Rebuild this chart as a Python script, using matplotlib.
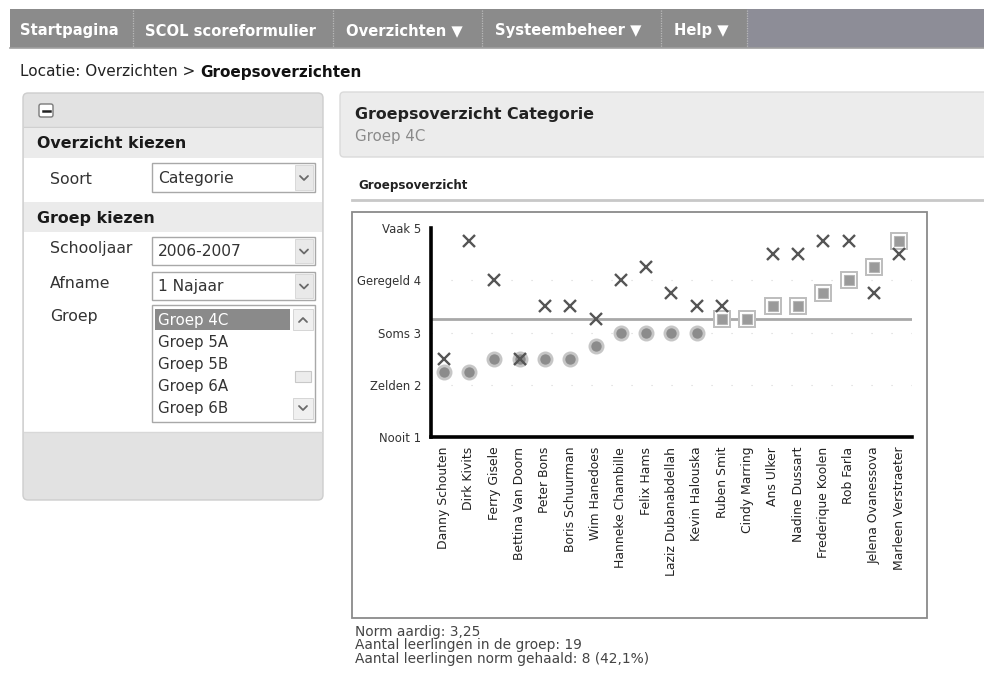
import numpy as np
import matplotlib
matplotlib.use("Agg")
import matplotlib.pyplot as plt
from matplotlib.patches import Rectangle, FancyBboxPatch

# ---------------- data ----------------
students = ["Danny Schouten", "Dirk Kivits", "Ferry Gisele", "Bettina Van Doorn",
            "Peter Bons", "Boris Schuurman", "Wim Hanedoes", "Hanneke Chambille",
            "Felix Hams", "Laziz Dubanabdellah", "Kevin Halouska", "Ruben Smit",
            "Cindy Marring", "Ans Ulker", "Nadine Dussart", "Frederique Koolen",
            "Rob Farla", "Jelena Ovanessova", "Marleen Verstraeter"]
scores = [2.25, 2.25, 2.5, 2.5, 2.5, 2.5, 2.75, 3.0, 3.0, 3.0, 3.0,
          3.25, 3.25, 3.5, 3.5, 3.75, 4.0, 4.25, 4.75]
x_scores = [2.5, 4.75, 4.0, 2.5, 3.5, 3.5, 3.25, 4.0, 4.25, 3.75, 3.5,
            3.5, np.nan, 4.5, 4.5, 4.75, 4.75, 3.75, 4.5]
norm = 3.25
y_ticks = [1, 2, 3, 4, 5]
y_labels = ["Nooit 1", "Zelden 2", "Soms 3", "Geregeld 4", "Vaak 5"]

nav_items = ["Startpagina", "SCOL scoreformulier", "Overzichten \u25BC",
             "Systeembeheer \u25BC", "Help \u25BC"]
groups = ["Groep 4C", "Groep 5A", "Groep 5B", "Groep 6A", "Groep 6B"]
footer = ["Norm aardig: 3,25", "Aantal leerlingen in de groep: 19",
          "Aantal leerlingen norm gehaald: 8 (42,1%)"]

W, H = 984, 679
fig = plt.figure(figsize=(W / 100, H / 100), dpi=100)
fig.patch.set_facecolor("white")

bg = fig.add_axes([0, 0, 1, 1])
bg.set_xlim(0, W)
bg.set_ylim(H, 0)
bg.axis("off")


def rect(x0, y0, x1, y1, fc, ec="none", lw=1.0, z=1, **kw):
    r = Rectangle((x0, y0), x1 - x0, y1 - y0, facecolor=fc, edgecolor=ec, lw=lw, zorder=z, **kw)
    bg.add_patch(r)
    return r


def chevron(cx, cy, up=False, color="#6a6a6a"):
    d = -3 if up else 3
    bg.plot([cx - 4, cx, cx + 4], [cy - d / 1.5, cy + d / 1.5, cy - d / 1.5],
            color=color, lw=1.3, zorder=6, solid_capstyle="round")


# ---------------- nav bar ----------------
rect(10, 9, W, 48, "#8b8b8b", z=1)
rect(747, 9, W, 48, "#8d8d97", z=1)
bg.plot([10, W], [47.5, 47.5], color="#a0a0a0", lw=1.2, zorder=2)
for sx in [133, 333, 482, 661, 747]:
    bg.plot([sx, sx], [10, 47], color="#b8b8b8", lw=0.9, ls=(0, (1, 1)), zorder=2)
for tx, s in zip([20, 145, 346, 495, 674], nav_items):
    bg.text(tx, 31, s, color="white", fontsize=10.6, fontweight="bold",
            va="center", ha="left", zorder=3)

# breadcrumb
t1 = bg.text(20, 72, "Locatie: Overzichten > ", fontsize=11.0, color="#222222",
             va="center", ha="left", zorder=3)
bg.annotate("Groepsoverzichten", xy=(1, 0.5), xycoords=t1, fontsize=11.0,
            fontweight="bold", color="#111111", va="center", ha="left", zorder=3)

# ---------------- left panel ----------------
panel = FancyBboxPatch((23, 93), 300, 407, boxstyle="round,pad=0,rounding_size=5",
                       facecolor="#e2e2e2", edgecolor="#cdcdcd", lw=1.0, zorder=1)
bg.add_patch(panel)
bg.plot([24, 322], [127, 127], color="#d0d0d0", lw=1, zorder=2)
rect(24, 127.5, 322, 158, "#ebebeb", z=2)
rect(24, 158, 322, 202, "white", z=2)
rect(24, 202, 322, 232, "#ebebeb", z=2)
rect(24, 232, 322, 432, "white", z=2)
bg.plot([24, 322], [432, 432], color="#d8d8d8", lw=1, zorder=3)

# minus button
mb = FancyBboxPatch((39, 104), 14, 13, boxstyle="round,pad=0,rounding_size=2",
                    facecolor="white", edgecolor="#7a7a7a", lw=1.0, zorder=4)
bg.add_patch(mb)
bg.plot([42.5, 49.5], [110.5, 110.5], color="#222222", lw=1.8, zorder=5)

bg.text(37, 143, "Overzicht kiezen", fontsize=11.4, fontweight="bold",
        color="#1a1a1a", va="center", ha="left", zorder=4)
bg.text(37, 218, "Groep kiezen", fontsize=11.4, fontweight="bold",
        color="#1a1a1a", va="center", ha="left", zorder=4)

labels_left = [("Soort", 180), ("Schooljaar", 249), ("Afname", 283), ("Groep", 317)]
for s, yy in labels_left:
    bg.text(50, yy, s, fontsize=11.3, color="#333333", va="center", ha="left", zorder=4)

selects = [("Categorie", 163, 192), ("2006-2007", 237, 265), ("1 Najaar", 272, 300)]
for s, y0, y1 in selects:
    rect(152, y0, 315, y1, "white", ec="#a8a8a8", lw=1.0, z=4)
    rect(295, y0 + 2, 313, y1 - 2, "#e9e9e9", ec="#d4d4d4", lw=0.6, z=5)
    chevron(304, (y0 + y1) / 2 + 0.5)
    bg.text(158, (y0 + y1) / 2 + 1, s, fontsize=11.2, color="#333333",
            va="center", ha="left", zorder=5)

# listbox
rect(152, 305, 315, 422, "white", ec="#a8a8a8", lw=1.0, z=4)
rect(155, 308.5, 290, 330, "#8a8a8a", z=5)
for i, g in enumerate(groups):
    yy = 320 + i * 22
    bg.text(158, yy, g, fontsize=10.8, color="white" if i == 0 else "#333333",
            va="center", ha="left", zorder=6)
rect(293, 309, 313, 330, "#f0f0f0", ec="#d0d0d0", lw=0.6, z=5)
chevron(303, 320, up=True)
rect(295, 371, 311, 382, "#ececec", ec="#c8c8c8", lw=0.8, z=5)
rect(293, 398, 313, 419, "#f0f0f0", ec="#d0d0d0", lw=0.6, z=5)
chevron(303, 408)

# ---------------- right panel ----------------
hdr = FancyBboxPatch((340, 92), 650, 65, boxstyle="round,pad=0,rounding_size=4",
                     facecolor="#ececec", edgecolor="#dadada", lw=1.0, zorder=1)
bg.add_patch(hdr)
bg.text(355, 115, "Groepsoverzicht Categorie", fontsize=11.4, fontweight="bold",
        color="#222222", va="center", ha="left", zorder=3)
bg.text(355, 137, "Groep 4C", fontsize=10.8, color="#8a8a8a",
        va="center", ha="left", zorder=3)
bg.text(358, 185, "Groepsoverzicht", fontsize=8.6, fontweight="bold",
        color="#222222", va="center", ha="left", zorder=3)
bg.plot([352, W], [199.5, 199.5], color="#c8c8c8", lw=2, zorder=3)

# chart frame
rect(352, 212, 927, 618, "white", ec="#8a8a8a", lw=1.3, z=2)

# footer text
for i, s in enumerate(footer):
    bg.text(355, 632 + i * 13.3, s, fontsize=9.9, color="#444444",
            va="center", ha="left", zorder=3)

# ---------------- chart ----------------
ax = fig.add_axes([431 / W, 1 - 437 / H, 481 / W, 209 / H])
ax.set_zorder(5)
ax.patch.set_alpha(0)
xs = np.arange(len(students))
ax.set_xlim(-0.5, len(students) - 0.5)
ax.set_ylim(1, 5)

for gy in [2, 3, 4]:
    ax.axhline(gy, color="#d6d6d6", lw=0.8, ls=(0, (1, 17)), zorder=1)
ax.axhline(norm, color="#a8a8a8", lw=2.0, zorder=2)

sc = np.array(scores)
below = sc < norm
ax.plot(xs[below], sc[below], ls="none", marker="o", ms=9.5, mfc="#8c8c8c",
        mec="#c6c6c6", mew=2.0, zorder=3)
ax.plot(xs[~below], sc[~below], ls="none", marker="s", ms=11, mfc="white",
        mec="#bdbdbd", mew=1.4, zorder=3)
ax.plot(xs[~below], sc[~below], ls="none", marker="s", ms=6.5, mfc="#9a9a9a",
        mec="#b5b5b5", mew=0.8, zorder=4)
ax.plot(xs, x_scores, ls="none", marker="x", ms=8.5, mec="#555555", mew=1.7, zorder=5)

for side in ["top", "right"]:
    ax.spines[side].set_visible(False)
for side in ["left", "bottom"]:
    ax.spines[side].set_linewidth(2.6)
    ax.spines[side].set_color("black")
ax.set_yticks(y_ticks)
ax.set_yticklabels(y_labels, fontsize=8.4, color="#333333")
ax.set_xticks(xs)
ax.set_xticklabels(students, rotation=90, fontsize=8.9, color="#222222", va="top")
ax.tick_params(axis="both", length=0)
ax.tick_params(axis="y", pad=7)
ax.tick_params(axis="x", pad=7)

fig.savefig("out.png", dpi=100, facecolor="white")
